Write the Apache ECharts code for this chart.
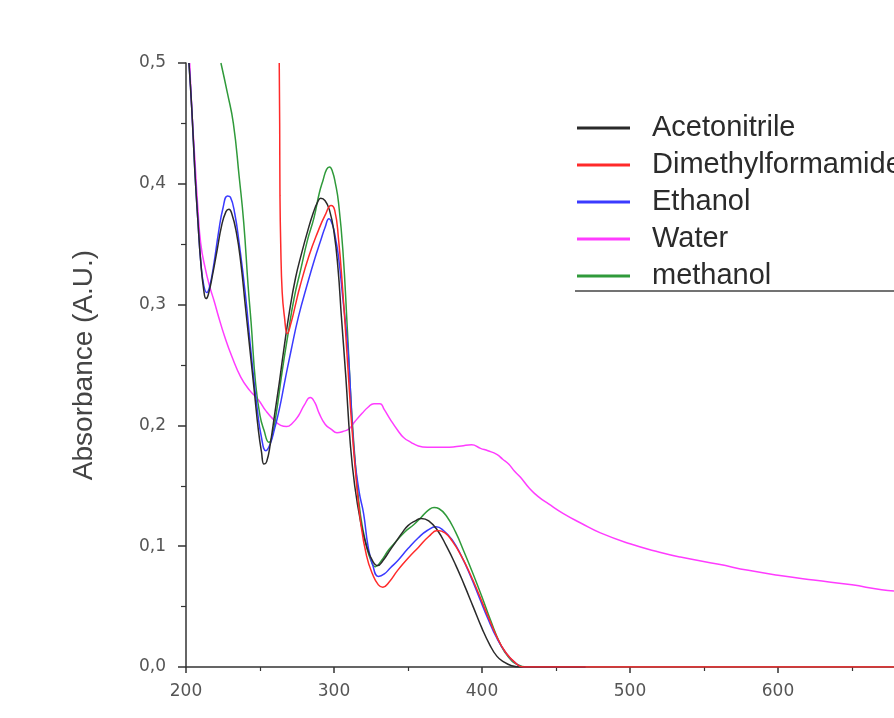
<!DOCTYPE html>
<html>
<head>
<meta charset="utf-8">
<script src="https://cdn.jsdelivr.net/npm/echarts@6/dist/echarts.min.js"></script>
<style>
html,body{margin:0;padding:0;background:#fff;}
#chart{width:894px;height:718px;}
</style>
</head>
<body>
<div id="chart"></div>
<script>
// ---- Data (wavelength nm, absorbance A.U.) ----
const acetonitrileX = [202,204,206,208,210,212,213.5,215,218,221,224,227,229,231,234,237,240,243,246,249,251,252.7,254.5,257,260,263,266,270,274,278,282,286,289,291,294,297,300,302.7,305,308,311,314,318,322,326,329.5,333,338,342,346,350,355,359,364,370,376,382,388,394,400,405,410,415,420,425,440,470];
const acetonitrileY = [0.5,0.46,0.41,0.37,0.335,0.312,0.305,0.308,0.325,0.345,0.365,0.377,0.379,0.375,0.36,0.335,0.3,0.265,0.23,0.195,0.178,0.168,0.17,0.185,0.21,0.235,0.262,0.295,0.322,0.342,0.36,0.376,0.385,0.388,0.386,0.378,0.36,0.33,0.29,0.24,0.185,0.15,0.12,0.1,0.088,0.084,0.088,0.097,0.104,0.111,0.117,0.121,0.123,0.121,0.113,0.1,0.085,0.068,0.05,0.032,0.019,0.009,0.004,0.001,0,0,0];

const dmfX = [263,263.3,263.5,264,265,266.5,268.5,271,274,277,283,289,294,298,300.5,303,306,309,312,315,318,322,326,330,333,337,343,350,357,364,370,375,380,386,392,398,404,410,416,422,428,440,500,600,700];
const dmfY = [0.5,0.45,0.39,0.35,0.31,0.29,0.276,0.285,0.3,0.315,0.34,0.36,0.374,0.382,0.378,0.355,0.31,0.255,0.2,0.155,0.12,0.092,0.077,0.068,0.066,0.07,0.08,0.09,0.099,0.108,0.113,0.111,0.104,0.092,0.077,0.06,0.042,0.025,0.012,0.004,0,0,0,0,0];

const ethanolX = [202,204,206,208,210,212,214,216,219,222,225,228,230,233,236,240,244,248,251,254,257,260,263,267,271,276,282,287,291,294,296.6,299,301,303,306,309.5,313.5,317,320,323,326,330,334,338,343,350,357,363,369,374,380,386,392,398,404,410,416,422,428,440,470];
const ethanolY = [0.5,0.46,0.41,0.37,0.335,0.316,0.31,0.315,0.335,0.36,0.38,0.39,0.389,0.375,0.35,0.31,0.26,0.215,0.19,0.179,0.185,0.198,0.213,0.238,0.262,0.29,0.317,0.338,0.353,0.364,0.371,0.366,0.355,0.34,0.305,0.262,0.179,0.145,0.127,0.1,0.085,0.075,0.077,0.082,0.088,0.098,0.107,0.113,0.116,0.113,0.105,0.092,0.076,0.058,0.04,0.024,0.012,0.004,0,0,0];

const waterX = [202.5,204,206,208,210,213,216,219,222,226,231,237,243,249,254,259,264,268,272,276,280,284,287,290,294,298,302,306,310,314,319,323,327,331,334,338,343,347,352,357,363,370,378,386,393,399,404,410,414,418,422,426,432,438,445,455,467,480,500,520,534,560,580,600,624,650,670,690,700];
const waterY = [0.5,0.46,0.42,0.38,0.35,0.33,0.315,0.303,0.29,0.274,0.257,0.24,0.229,0.221,0.212,0.205,0.2,0.199,0.202,0.208,0.217,0.223,0.219,0.21,0.201,0.197,0.194,0.195,0.197,0.203,0.21,0.215,0.218,0.218,0.213,0.205,0.196,0.19,0.186,0.183,0.182,0.182,0.182,0.183,0.184,0.181,0.179,0.176,0.172,0.168,0.162,0.157,0.148,0.141,0.135,0.127,0.119,0.111,0.102,0.095,0.091,0.085,0.08,0.076,0.072,0.068,0.064,0.062,0.061];

const methanolX = [223.6,228,232,236,239,242,244,247,250,252.7,256,258,261,265,269,273,277.7,282,286.5,290,292.6,295,297,299,301,303,306,309,312,315,318,322,325,328,332,337,342,348,354,359,364,367.6,371,376,382,388,394,400,406,412,418,424,430,440,470];
const methanolY = [0.5,0.475,0.45,0.405,0.368,0.315,0.285,0.235,0.208,0.196,0.186,0.19,0.21,0.245,0.276,0.305,0.33,0.353,0.372,0.392,0.403,0.412,0.414,0.41,0.4,0.385,0.345,0.28,0.21,0.16,0.125,0.1,0.088,0.083,0.088,0.097,0.104,0.112,0.118,0.124,0.13,0.132,0.131,0.125,0.112,0.095,0.077,0.058,0.038,0.02,0.008,0.002,0,0,0];

const seriesNames = ['Acetonitrile','Dimethylformamide','Ethanol','Water','methanol'];
const xTicks = {min:200, max:700, interval:100};
const yTicks = {min:0, max:0.5, interval:0.1};

function pairs(xs, ys){ return xs.map((x,i)=>[x, ys[i]]); }

const colors = {
  'Acetonitrile':'#2a2a2a',
  'Dimethylformamide':'#ff2a2a',
  'Ethanol':'#3a3aff',
  'Water':'#ff3cff',
  'methanol':'#2f9a3a'
};
const dataMap = {
  'Acetonitrile':pairs(acetonitrileX, acetonitrileY),
  'Dimethylformamide':pairs(dmfX, dmfY),
  'Ethanol':pairs(ethanolX, ethanolY),
  'Water':pairs(waterX, waterY),
  'methanol':pairs(methanolX, methanolY)
};
const drawOrder = ['Water','methanol','Ethanol','Acetonitrile','Dimethylformamide'];

const chart = echarts.init(document.getElementById('chart'), null, {renderer:'canvas'});
chart.setOption({
  backgroundColor:'#ffffff',
  animation:false,
  grid:{left:186, right:-32, top:63, bottom:51, containLabel:false, outerBoundsMode:'none'},
  legend:{
    data:seriesNames,
    orient:'vertical',
    left:572, top:108,
    icon:'rect',
    itemWidth:53, itemHeight:3,
    itemGap:7,
    textStyle:{fontFamily:'Liberation Sans, Arial', fontSize:29, color:'#2b2b2b', lineHeight:30, padding:[0,0,0,17]}
  },
  xAxis:{
    type:'value', min:xTicks.min, max:xTicks.max, interval:xTicks.interval,
    axisLine:{show:true, onZero:false, lineStyle:{color:'#333', width:1.5}},
    axisTick:{show:true, inside:false, length:6, lineStyle:{color:'#333', width:1.5}},
    minorTick:{show:true, splitNumber:2, length:4, lineStyle:{color:'#333', width:1.2}},
    splitLine:{show:false},
    axisLabel:{margin:16, fontFamily:'DejaVu Sans', fontSize:17, color:'#555'}
  },
  yAxis:{
    type:'value', min:yTicks.min, max:yTicks.max, interval:yTicks.interval,
    name:'Absorbance (A.U.)', nameLocation:'middle', nameGap:88,
    nameTextStyle:{fontFamily:'Liberation Sans, Arial', fontSize:28, color:'#444'},
    axisLine:{show:true, onZero:false, lineStyle:{color:'#333', width:1.5}},
    axisTick:{show:true, inside:false, length:8, lineStyle:{color:'#333', width:1.5}},
    minorTick:{show:true, splitNumber:2, length:5, lineStyle:{color:'#333', width:1.2}},
    splitLine:{show:false},
    axisLabel:{margin:20, fontFamily:'DejaVu Sans', fontSize:17, color:'#555',
      formatter:v=>v.toFixed(1).replace('.',',')}
  },
  graphic:[{type:'line', shape:{x1:575, y1:291, x2:894, y2:291}, style:{stroke:'#444', lineWidth:1.5}}],
  series: drawOrder.map(n=>({
    name:n, type:'line', data:dataMap[n], showSymbol:false, symbol:'none',
    smooth:0.5, clip:true,
    color:colors[n],
    lineStyle:{color:colors[n], width:1.5}
  }))
});
</script>
</body>
</html>
